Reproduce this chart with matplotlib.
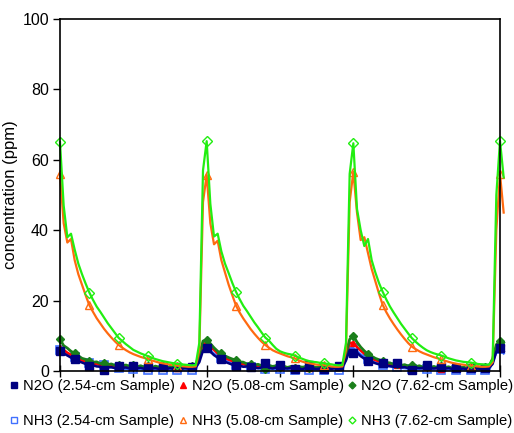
import numpy as np
import matplotlib
matplotlib.use("Agg")
import matplotlib.pyplot as plt
from matplotlib.lines import Line2D

plt.rcParams["font.family"] = ["Liberation Sans", "DejaVu Sans"]

# sampling times (x axis has no labels, ticks every 1 unit)
time_h = np.round(np.arange(0, 6.051, 0.05), 2)

# N2O, 2.54-cm sample
n2o_254 = [
    5.8, 5.0, 4.4, 3.8, 3.3, 2.8, 2.4, 2.0, 1.4, 1.6, 1.3, 1.2, 0.3, 1.0, 1.1, 0.8, 1.5, 0.9, 1.0, 0.7,
    1.4, 0.8, 0.9, 0.6, 1.2, 0.7, 0.8, 0.6, 1.1, 0.6, 0.8, 0.6, 1.0, 0.6, 0.8, 0.7, 1.2, 1.0, 2.5, 5.8,
    6.5, 5.5, 4.5, 3.8, 3.3, 2.6, 2.2, 1.8, 1.4, 1.5, 1.2, 1.3, 1.0, 1.1, 0.8, 1.0, 2.2, 0.9, 0.7, 1.0,
    1.8, 0.8, 0.7, 0.9, 0.6, 0.8, 0.5, 0.8, 1.6, 0.7, 0.6, 0.7, 0.5, 0.8, 0.6, 0.8, 1.4, 1.1, 3.0, 6.0,
    5.0, 5.2, 4.2, 3.5, 2.7, 2.6, 2.2, 1.9, 2.2, 1.5, 1.4, 1.2, 2.2, 1.0, 1.1, 0.8, 0.3, 0.9, 0.8, 0.9,
    1.7, 0.8, 0.7, 0.9, 1.0, 0.7, 0.8, 0.6, 0.9, 0.6, 0.7, 0.5, 0.8, 0.6, 0.7, 0.5, 0.8, 0.9, 2.0, 5.5,
    6.5, 5.5,
]

# N2O, 5.08-cm sample
n2o_508 = [
    6.5, 6.0, 5.2, 4.6, 4.0, 3.5, 3.0, 2.7, 2.4, 2.0, 2.1, 1.7, 1.8, 1.4, 1.6, 1.2, 1.5, 1.1, 1.3, 0.9,
    1.3, 0.9, 1.2, 0.8, 1.1, 0.7, 1.1, 0.8, 1.0, 0.6, 1.0, 0.7, 0.9, 0.7, 1.0, 0.8, 1.0, 1.3, 4.0, 7.5,
    8.2, 7.0, 6.0, 5.0, 4.3, 3.7, 3.2, 2.8, 2.5, 2.1, 2.0, 1.6, 1.7, 1.3, 1.5, 1.2, 1.3, 1.0, 1.2, 0.9,
    1.2, 0.8, 1.1, 0.8, 1.0, 0.7, 1.0, 0.8, 0.9, 0.6, 0.9, 0.3, 0.9, 0.7, 0.9, 0.8, 1.0, 1.4, 4.5, 8.0,
    8.0, 6.8, 5.8, 4.9, 4.2, 3.6, 3.1, 2.7, 2.3, 2.0, 1.9, 1.5, 1.6, 1.2, 1.4, 1.1, 1.2, 0.9, 1.1, 0.8,
    1.1, 0.7, 1.0, 0.7, 0.5, 0.8, 1.0, 0.7, 0.9, 0.6, 0.9, 0.7, 0.8, 0.6, 0.9, 0.8, 0.9, 1.2, 3.0, 6.5,
    7.5, 7.0,
]

# N2O, 7.62-cm sample
n2o_762 = [
    9.0, 7.2, 6.5, 5.6, 5.0, 4.3, 3.6, 3.3, 2.8, 2.5, 2.6, 2.1, 2.2, 1.8, 2.0, 1.6, 1.8, 1.5, 1.7, 1.3,
    1.6, 1.2, 1.5, 1.1, 1.4, 0.9, 1.4, 1.1, 1.3, 0.8, 1.3, 1.0, 1.2, 0.9, 1.3, 1.0, 1.4, 1.6, 4.5, 8.5,
    8.8, 7.8, 6.6, 5.6, 5.0, 4.3, 3.8, 3.4, 3.1, 2.6, 2.5, 2.0, 2.1, 1.7, 1.9, 1.5, 0.6, 1.6, 1.3, 1.5,
    1.2, 1.4, 1.0, 1.3, 0.9, 1.3, 1.1, 1.2, 0.8, 1.2, 1.0, 1.1, 0.8, 1.2, 0.9, 1.1, 1.3, 1.6, 5.0, 9.0,
    10.0, 8.2, 6.8, 5.7, 4.8, 4.2, 3.6, 3.2, 2.8, 2.4, 2.3, 1.9, 2.0, 1.6, 1.8, 1.4, 1.6, 1.2, 1.5, 1.1,
    1.4, 1.0, 1.3, 0.9, 1.3, 1.0, 1.2, 0.8, 1.2, 0.9, 1.1, 0.8, 1.1, 0.9, 1.2, 1.0, 1.2, 1.4, 3.5, 7.5,
    8.5, 8.0,
]

# NH3, 2.54-cm sample
nh3_254 = [
    6.0, 5.3, 4.8, 4.3, 4.0, 3.3, 2.8, 2.6, 2.3, 2.0, 1.9, 1.8, 1.7, 1.2, 1.0, 0.9, 0.8, 0.7, 0.6, 0.6,
    0.5, 0.5, 0.5, 0.4, 0.4, 0.4, 0.4, 0.3, 0.3, 0.3, 0.3, 0.3, 0.3, 0.3, 0.2, 0.2, 0.2, 0.3, 3.5, 6.5,
    6.6, 5.8, 4.9, 4.2, 3.6, 3.0, 2.5, 2.1, 1.8, 1.5, 1.3, 1.1, 1.0, 0.9, 0.8, 0.7, 0.7, 0.6, 0.6, 0.5,
    0.5, 0.5, 0.4, 0.4, 0.4, 0.4, 0.3, 0.3, 0.3, 0.3, 0.3, 0.3, 0.2, 0.2, 0.2, 0.2, 0.2, 0.3, 3.5, 6.5,
    6.5, 5.6, 4.7, 4.0, 3.4, 2.9, 2.4, 2.0, 1.7, 1.5, 1.3, 1.1, 1.0, 0.9, 0.8, 0.7, 0.6, 0.6, 0.5, 0.5,
    0.5, 0.4, 0.4, 0.4, 0.4, 0.3, 0.3, 0.3, 0.3, 0.3, 0.3, 0.2, 0.2, 0.2, 0.2, 0.2, 0.2, 0.3, 2.5, 5.5,
    6.3, 5.0,
]

# NH3, 5.08-cm sample
nh3_508 = [
    56.0, 42.0, 36.5, 37.5, 31.5, 27.5, 24.5, 21.5, 18.7, 16.8, 15.0, 13.5, 12.0, 10.7, 9.5, 8.4, 7.4, 6.6, 5.9, 5.3,
    4.8, 4.4, 4.0, 3.7, 3.4, 3.0, 2.7, 2.4, 2.2, 2.0, 1.8, 1.7, 1.5, 1.4, 1.3, 1.2, 1.2, 1.3, 6.0, 48.0,
    55.7, 42.0, 36.0, 37.0, 31.5, 28.0, 24.5, 21.5, 18.6, 16.6, 14.9, 13.4, 11.9, 10.6, 9.4, 8.3, 7.4, 6.6, 5.9, 5.4,
    5.0, 4.6, 4.2, 3.9, 3.6, 3.1, 2.7, 2.4, 2.2, 2.0, 1.8, 1.7, 1.6, 1.5, 1.3, 1.2, 1.2, 1.3, 6.0, 48.0,
    56.6, 45.0, 37.2, 38.0, 33.5, 29.0, 25.5, 22.0, 18.8, 16.7, 14.9, 13.3, 11.8, 10.4, 9.1, 7.9, 6.9, 6.2, 5.6, 5.1,
    4.7, 4.3, 3.9, 3.6, 3.3, 2.9, 2.6, 2.3, 2.1, 1.9, 1.8, 1.6, 1.5, 1.4, 1.3, 1.2, 1.2, 1.3, 2.5, 40.0,
    56.0, 45.0,
]

# NH3, 7.62-cm sample
nh3_762 = [
    65.0, 47.0, 38.0, 39.0, 34.5, 30.5, 27.5, 24.8, 22.3, 20.2, 18.3, 16.8, 15.2, 13.6, 12.2, 10.8, 9.4, 8.5, 7.6, 6.8,
    6.0, 5.5, 5.0, 4.6, 4.2, 3.8, 3.4, 3.1, 2.8, 2.6, 2.4, 2.2, 2.0, 1.9, 1.8, 1.7, 1.6, 1.7, 8.0, 57.0,
    65.3, 47.5, 38.2, 39.0, 34.0, 30.5, 27.8, 25.0, 22.5, 20.4, 18.5, 17.0, 15.4, 13.8, 12.4, 10.9, 9.5, 8.6, 7.4, 6.3,
    5.6, 5.2, 4.9, 4.7, 4.4, 3.9, 3.5, 3.1, 2.8, 2.6, 2.5, 2.3, 2.2, 2.0, 1.9, 1.7, 1.6, 1.7, 8.0, 56.0,
    64.7, 46.0, 40.0, 35.5, 37.5, 31.5, 28.0, 25.0, 22.5, 20.3, 18.3, 16.6, 15.0, 13.4, 12.0, 10.6, 9.3, 8.3, 7.4, 6.6,
    5.9, 5.4, 5.0, 4.7, 4.4, 4.0, 3.6, 3.3, 3.0, 2.8, 2.6, 2.5, 2.4, 2.2, 2.0, 1.9, 1.8, 1.8, 3.1, 50.0,
    65.4, 55.0,
]

labels = [
    "N2O (2.54-cm Sample)", "N2O (5.08-cm Sample)", "N2O (7.62-cm Sample)",
    "NH3 (2.54-cm Sample)", "NH3 (5.08-cm Sample)", "NH3 (7.62-cm Sample)",
]

c_navy = "#000080"
c_red = "#ff0000"
c_dgreen = "#1a7f1a"
c_lblue = "#4070ff"
c_orange = "#ff6a10"
c_green = "#22ee11"

fig = plt.figure(figsize=(5.14, 4.33), dpi=100)
ax = fig.add_axes([60 / 514, 62 / 433, 440 / 514, 352 / 433])

ax.plot(time_h, nh3_254, color=c_lblue, lw=1.8, marker="s", ms=5.5, mfc="none",
        mec=c_lblue, mew=1.2, markevery=4, clip_on=False)
ax.plot(time_h, n2o_508, color=c_red, lw=1.8, marker="^", ms=5, mfc=c_red,
        mec=c_red, markevery=4, clip_on=False)
ax.plot(time_h, n2o_762, color=c_dgreen, lw=2.0, marker="D", ms=4.5, mfc=c_dgreen,
        mec=c_dgreen, markevery=4, clip_on=False)
ax.plot(time_h, n2o_254, color=c_navy, lw=1.8, marker="s", ms=5.5, mfc=c_navy,
        mec=c_navy, markevery=4, clip_on=False)
ax.plot(time_h, nh3_508, color=c_orange, lw=1.6, marker="^", ms=6, mfc="none",
        mec=c_orange, mew=1.0, markevery=8, clip_on=False)
ax.plot(time_h, nh3_762, color=c_green, lw=1.6, marker="D", ms=5, mfc="none",
        mec=c_green, mew=1.0, markevery=8, clip_on=False)

ax.set_xlim(0, 6)
ax.set_ylim(0, 100)
ax.set_xticks(range(7))
ax.set_yticks(range(0, 101, 20))
ax.tick_params(axis="x", direction="inout", length=9, width=1, labelbottom=False)
ax.tick_params(axis="y", direction="out", length=5, width=1, labelsize=11.5, pad=3)
for s in ax.spines.values():
    s.set_linewidth(1.2)

ax.set_ylabel("concentration (ppm)", fontsize=12)
ax.yaxis.set_label_coords(-0.096, 0.5)

# legend: marker-only proxies, order so rows read N2O / NH3
styles = [
    dict(marker="s", color=c_navy, mfc=c_navy),
    dict(marker="^", color=c_red, mfc=c_red),
    dict(marker="D", color=c_dgreen, mfc=c_dgreen, ms=3.5),
    dict(marker="s", color=c_lblue, mfc="none"),
    dict(marker="^", color=c_orange, mfc="none"),
    dict(marker="D", color=c_green, mfc="none", ms=3.5),
]
handles = []
for st in styles:
    kw = dict(ms=4)
    kw.update(st)
    handles.append(Line2D([], [], linestyle="none", **kw))
order = [0, 3, 1, 4, 2, 5]
fig.legend([handles[i] for i in order], [labels[i] for i in order],
           ncol=3, loc="upper left", bbox_to_anchor=(0.019, 0.124), frameon=False,
           fontsize=10.6, handlelength=0.6, handletextpad=0.31, columnspacing=0.25,
           labelspacing=1.4, borderaxespad=0, borderpad=0)

fig.savefig("out.png", dpi=100)
plt.close(fig)
